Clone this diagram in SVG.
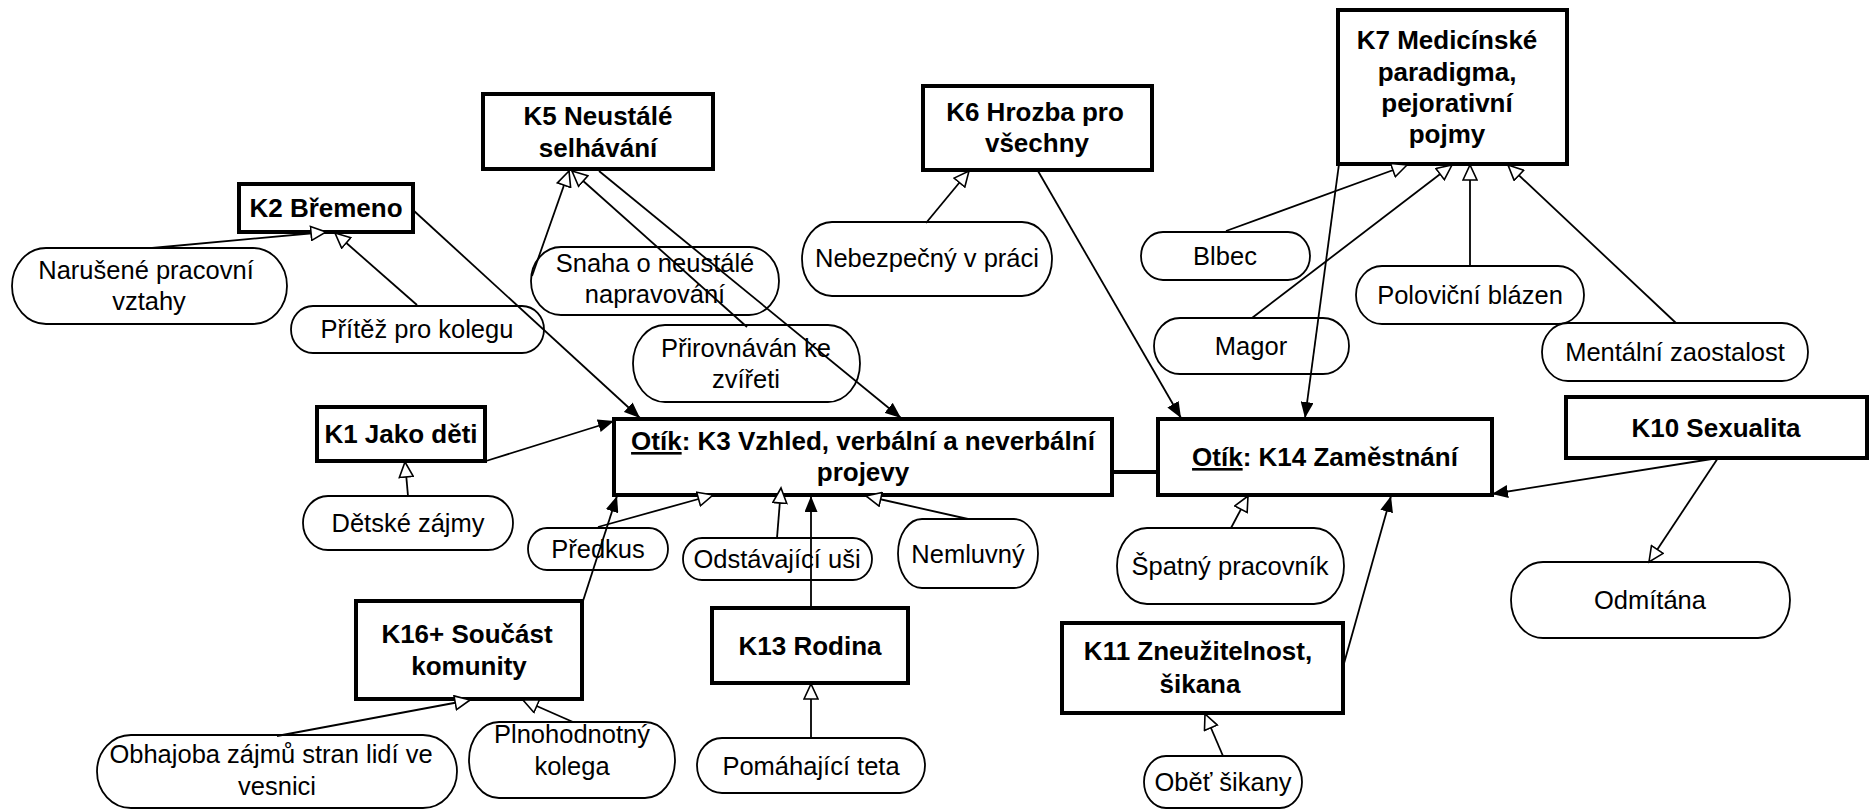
<svg xmlns="http://www.w3.org/2000/svg" width="1869" height="809" viewBox="0 0 1869 809">
<style>
.box{fill:#fff;stroke:#000;stroke-width:4}
.ov{fill:#fff;stroke:#000;stroke-width:1.8}
.bt{font-family:"Liberation Sans",Arial,sans-serif;font-weight:bold;font-size:26px;fill:#000;text-anchor:middle}
.ot{font-family:"Liberation Sans",Arial,sans-serif;font-size:25.5px;fill:#000;text-anchor:middle}
.c{fill:none;stroke:#000;stroke-width:1.8}
.gen{marker-end:url(#hollow)}
.asc{marker-end:url(#filled)}
</style>
<defs>
<marker id="filled" viewBox="0 0 16 13" refX="16" refY="6.5" markerWidth="16" markerHeight="13" markerUnits="userSpaceOnUse" orient="auto"><path d="M0,0 L16,6.5 L0,13 z" fill="#000"/></marker>
<marker id="hollow" viewBox="-1 -1 18 16" refX="15" refY="7" markerWidth="18" markerHeight="16" markerUnits="userSpaceOnUse" orient="auto"><path d="M0,0 L15,7 L0,14 z" fill="#fff" stroke="#000" stroke-width="1.6"/></marker>
</defs>
<rect width="1869" height="809" fill="#fff"/>

<g id="nodes">
<g id="k2"><rect class="box" x="239" y="184" width="174" height="48"/><text class="bt" x="326" y="217">K2 Břemeno</text></g>
<g id="k5"><rect class="box" x="483" y="94" width="230" height="75"/><text class="bt" x="598" y="125">K5 Neustálé</text><text class="bt" x="598" y="157">selhávání</text></g>
<g id="k6"><rect class="box" x="923" y="86" width="229" height="84"/><text class="bt" x="1035" y="121">K6 Hrozba pro</text><text class="bt" x="1037" y="152">všechny</text></g>
<g id="k7"><rect class="box" x="1338" y="10" width="229" height="154"/><text class="bt" x="1447" y="49">K7 Medicínské</text><text class="bt" x="1447" y="81">paradigma,</text><text class="bt" x="1447" y="112">pejorativní</text><text class="bt" x="1447" y="143">pojmy</text></g>
<g id="k1"><rect class="box" x="317" y="407" width="168" height="54"/><text class="bt" x="401" y="443">K1 Jako děti</text></g>
<g id="k3"><rect class="box" x="614" y="419" width="498" height="76"/><text class="bt" x="863" y="450"><tspan text-decoration="underline">Otík</tspan>: K3 Vzhled, verbální a neverbální</text><text class="bt" x="863" y="481">projevy</text></g>
<g id="k14"><rect class="box" x="1158" y="419" width="334" height="76"/><text class="bt" x="1325" y="466"><tspan text-decoration="underline">Otík</tspan>: K14 Zaměstnání</text></g>
<g id="k10"><rect class="box" x="1566" y="397" width="301" height="61"/><text class="bt" x="1716" y="437">K10 Sexualita</text></g>
<g id="k16"><rect class="box" x="356" y="601" width="226" height="98"/><text class="bt" x="467" y="643">K16+ Součást</text><text class="bt" x="469" y="675">komunity</text></g>
<g id="k13"><rect class="box" x="712" y="608" width="196" height="75"/><text class="bt" x="810" y="655">K13 Rodina</text></g>
<g id="k11"><rect class="box" x="1062" y="623" width="281" height="90"/><text class="bt" x="1198" y="660">K11 Zneužitelnost,</text><text class="bt" x="1200" y="693">šikana</text></g>

<g id="o-narusene"><rect class="ov" x="12" y="248" width="275" height="76" rx="34" ry="38"/><text class="ot" x="146" y="279">Narušené pracovní</text><text class="ot" x="149" y="310">vztahy</text></g>
<g id="o-pritez"><rect class="ov" x="291" y="306" width="253" height="47" rx="22" ry="23.5"/><text class="ot" x="417" y="338">Přítěž pro kolegu</text></g>
<g id="o-snaha"><rect class="ov" x="531" y="247" width="248" height="68" rx="30" ry="34"/><text class="ot" x="655" y="272">Snaha o neustálé</text><text class="ot" x="655" y="303">napravování</text></g>
<g id="o-prirovnavan"><rect class="ov" x="633" y="325" width="227" height="77" rx="32" ry="38.5"/><text class="ot" x="746" y="357">Přirovnáván ke</text><text class="ot" x="746" y="388">zvířeti</text></g>
<g id="o-nebezpecny"><rect class="ov" x="802" y="222" width="250" height="74" rx="30" ry="37"/><text class="ot" x="927" y="267">Nebezpečný v práci</text></g>
<g id="o-blbec"><rect class="ov" x="1141" y="232" width="169" height="48" rx="22" ry="24"/><text class="ot" x="1225" y="265">Blbec</text></g>
<g id="o-magor"><rect class="ov" x="1154" y="318" width="195" height="56" rx="26" ry="28"/><text class="ot" x="1251" y="355">Magor</text></g>
<g id="o-polovicni"><rect class="ov" x="1356" y="266" width="228" height="58" rx="26" ry="29"/><text class="ot" x="1470" y="304">Poloviční blázen</text></g>
<g id="o-mentalni"><rect class="ov" x="1542" y="323" width="266" height="58" rx="26" ry="29"/><text class="ot" x="1675" y="361">Mentální zaostalost</text></g>
<g id="o-detske"><rect class="ov" x="303" y="496" width="210" height="54" rx="25" ry="27"/><text class="ot" x="408" y="532">Dětské zájmy</text></g>
<g id="o-predkus"><rect class="ov" x="528" y="528" width="140" height="42" rx="19" ry="21"/><text class="ot" x="598" y="558">Předkus</text></g>
<g id="o-odstavajici"><rect class="ov" x="683" y="538" width="189" height="42" rx="19" ry="21"/><text class="ot" x="777" y="568">Odstávající uši</text></g>
<g id="o-nemluvny"><rect class="ov" x="898" y="519" width="140" height="69" rx="24" ry="34.5"/><text class="ot" x="968" y="563">Nemluvný</text></g>
<g id="o-spatny"><rect class="ov" x="1117" y="528" width="227" height="76" rx="30" ry="38"/><text class="ot" x="1230" y="575">Špatný pracovník</text></g>
<g id="o-odmitana"><rect class="ov" x="1511" y="562" width="279" height="76" rx="32" ry="38"/><text class="ot" x="1650" y="609">Odmítána</text></g>
<g id="o-obhajoba"><rect class="ov" x="97" y="735" width="360" height="73" rx="34" ry="36.5"/><text class="ot" x="271" y="763">Obhajoba zájmů stran lidí ve</text><text class="ot" x="277" y="795">vesnici</text></g>
<g id="o-plnohodnotny"><rect class="ov" x="469" y="722" width="206" height="76" rx="30" ry="38"/><text class="ot" x="572" y="743">Plnohodnotný</text><text class="ot" x="572" y="775">kolega</text></g>
<g id="o-pomahajici"><rect class="ov" x="697" y="738" width="228" height="55" rx="25" ry="27.5"/><text class="ot" x="811" y="775">Pomáhající teta</text></g>
<g id="o-obet"><rect class="ov" x="1144" y="756" width="158" height="52" rx="22" ry="26"/><text class="ot" x="1223" y="791">Oběť šikany</text></g>
</g>

<g id="connectors">
<line class="c gen" x1="152" y1="248" x2="326" y2="232"/>
<line class="c gen" x1="417" y1="305" x2="335" y2="233"/>
<line class="c gen" x1="532" y1="276" x2="569" y2="171"/>
<line class="c gen" x1="747" y1="327" x2="572" y2="171"/>
<line class="c gen" x1="926" y1="223" x2="969" y2="171"/>
<line class="c gen" x1="1226" y1="231" x2="1407" y2="165"/>
<line class="c gen" x1="1252" y1="318" x2="1452" y2="165"/>
<line class="c gen" x1="1470" y1="266" x2="1470" y2="165"/>
<line class="c gen" x1="1676" y1="323" x2="1508" y2="165"/>
<line class="c gen" x1="408" y1="496" x2="405" y2="462"/>
<line class="c gen" x1="598" y1="527" x2="713" y2="495"/>
<line class="c gen" x1="777" y1="538" x2="781" y2="488"/>
<line class="c gen" x1="968" y1="519" x2="866" y2="496"/>
<line class="c gen" x1="1231" y1="528" x2="1248" y2="496"/>
<line class="c gen" x1="1223" y1="756" x2="1205" y2="714"/>
<line class="c gen" x1="1718" y1="458" x2="1649" y2="562"/>
<line class="c gen" x1="811" y1="738" x2="811" y2="684"/>
<line class="c gen" x1="277" y1="736" x2="470" y2="700"/>
<line class="c gen" x1="573" y1="722" x2="523" y2="700"/>
<line class="c asc" x1="413" y1="210" x2="640" y2="418"/>
<line class="c asc" x1="599" y1="171" x2="901" y2="418"/>
<line class="c asc" x1="486" y1="461" x2="614" y2="421"/>
<line class="c asc" x1="583" y1="601" x2="617" y2="496"/>
<line class="c asc" x1="811" y1="608" x2="811" y2="496"/>
<line class="c asc" x1="1038" y1="171" x2="1181" y2="418"/>
<line class="c asc" x1="1339" y1="164" x2="1305" y2="418"/>
<line class="c asc" x1="1718" y1="458" x2="1492" y2="494"/>
<line class="c asc" x1="1343" y1="667" x2="1391" y2="496"/>
<line x1="1112" y1="472" x2="1158" y2="472" stroke="#000" stroke-width="4"/>
</g>
</svg>
